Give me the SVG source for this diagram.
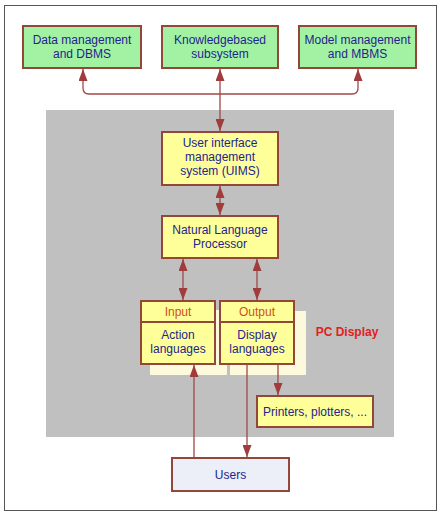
<svg xmlns="http://www.w3.org/2000/svg" width="440" height="517" viewBox="0 0 440 517">
<style>
.box{stroke:#93473a;stroke-width:2}
.g{fill:#a3f2a3}
.y{fill:#ffff99}
.t{font-family:"Liberation Sans",Arial,sans-serif;font-size:12px;fill:#23238e;text-anchor:middle}
.o{font-family:"Liberation Sans",Arial,sans-serif;font-size:12px;fill:#d0501a;text-anchor:middle}
.c{fill:none;stroke:#a04848;stroke-width:1.3}
.sh{fill:#fdf9dc}
</style>
<defs>
<marker id="ahl" viewBox="0 0 10 10" refX="10" refY="5" markerWidth="12" markerHeight="9" markerUnits="userSpaceOnUse" orient="auto-start-reverse" preserveAspectRatio="none">
<path d="M0,0 L10,5 L0,10 z" fill="#a03c3c"/>
</marker>
</defs>
<rect x="0" y="0" width="440" height="517" fill="#ffffff"/>
<rect x="4.5" y="5.5" width="432" height="505" fill="#ffffff" stroke="#555555" stroke-width="1"/>
<rect id="pc-display" x="46" y="110" width="348" height="327" fill="#c0c0c0"/>
<text x="347" y="336" font-family="'Liberation Sans',Arial,sans-serif" font-size="12" font-weight="bold" fill="#e02020" text-anchor="middle">PC Display</text>

<g id="data-management">
<rect class="box g" x="23" y="26" width="118" height="42"/>
<text class="t" x="82" y="44">Data management</text>
<text class="t" x="82" y="58">and DBMS</text>
</g>
<g id="knowledgebased">
<rect class="box g" x="162" y="26" width="116" height="42"/>
<text class="t" x="220" y="44">Knowledgebased</text>
<text class="t" x="220" y="58">subsystem</text>
</g>
<g id="model-management">
<rect class="box g" x="299" y="26" width="117" height="42"/>
<text class="t" x="357.5" y="44">Model management</text>
<text class="t" x="357.5" y="58">and MBMS</text>
</g>
<g id="uims">
<rect class="box y" x="162" y="132" width="116" height="53"/>
<text class="t" x="220" y="147">User interface</text>
<text class="t" x="220" y="161">management</text>
<text class="t" x="220" y="175">system (UIMS)</text>
</g>
<g id="nlp">
<rect class="box y" x="162" y="216" width="116" height="42"/>
<text class="t" x="220" y="234">Natural Language</text>
<text class="t" x="220" y="248">Processor</text>
</g>
<g id="input">
<rect class="sh" x="150" y="310" width="77" height="65"/>
<rect class="box y" x="141" y="301" width="74" height="63"/>
<line class="box" x1="141" y1="322" x2="215" y2="322"/>
<text class="o" x="178" y="316">Input</text>
<text class="t" x="178" y="339">Action</text>
<text class="t" x="178" y="353">languages</text>
</g>
<g id="output">
<rect class="sh" x="230" y="311" width="76" height="64"/>
<rect class="box y" x="220" y="301" width="74" height="63"/>
<line class="box" x1="220" y1="322" x2="294" y2="322"/>
<text class="o" x="257" y="316">Output</text>
<text class="t" x="257" y="339">Display</text>
<text class="t" x="257" y="353">languages</text>
</g>
<g id="printers">
<rect class="box y" x="257" y="396" width="116" height="31"/>
<text class="t" x="315" y="415.5">Printers, plotters, ...</text>
</g>
<g id="users">
<rect class="box" x="172" y="458" width="117" height="33" fill="#eceff7"/>
<text class="t" x="230.5" y="478.5">Users</text>
</g>

<g id="connectors">
<path class="c" d="M83,69 V88 Q83,94 89,94 H352 Q358,94 358,88 V69" marker-start="url(#ahl)" marker-end="url(#ahl)"/>
<path class="c" d="M220,69 V131" marker-start="url(#ahl)" marker-end="url(#ahl)"/>
<path class="c" d="M220,186 V215" marker-start="url(#ahl)" marker-end="url(#ahl)"/>
<path class="c" d="M183,259 V300" marker-start="url(#ahl)" marker-end="url(#ahl)"/>
<path class="c" d="M257,259 V300" marker-start="url(#ahl)" marker-end="url(#ahl)"/>
<path class="c" d="M194,457 V365" marker-end="url(#ahl)"/>
<path class="c" d="M247,365 V457" marker-end="url(#ahl)"/>
<path class="c" d="M278,365 V395" marker-end="url(#ahl)"/>
</g>
</svg>
